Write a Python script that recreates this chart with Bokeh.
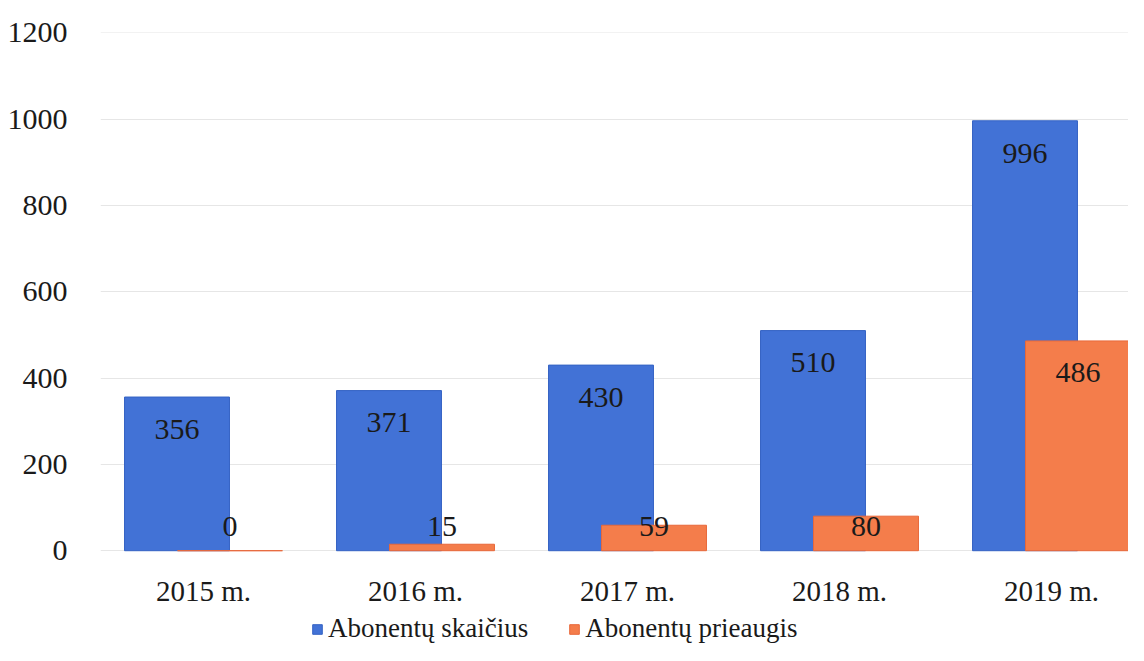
from bokeh.plotting import figure
from bokeh.models import ColumnDataSource, Range1d, Legend, LegendItem, FixedTicker
from bokeh.core.properties import value
from bokeh.embed import file_html
from bokeh.resources import INLINE

years = ["2015 m.", "2016 m.", "2017 m.", "2018 m.", "2019 m."]
subscribers = [356, 371, 430, 510, 996]
growth = [0, 15, 59, 80, 486]
series_names = ["Abonentų skaičius", "Abonentų prieaugis"]
y_ticks = [0, 200, 400, 600, 800, 1000, 1200]

BLUE = "#4272d6"
ORANGE = "#f47d4b"
FONT = "Liberation Serif"
TXT = "#1a1a1a"

W, H = 1128, 645
TOP, LEFT = 32, 100
PX_PER_UNIT = 518 / 1200.0
y_end = 1200.5
y_start = y_end - (H - TOP) / PX_PER_UNIT

xs = list(range(len(years)))
off = 0.125
bw = 0.495
cat_y = -40 / PX_PER_UNIT

src = ColumnDataSource(dict(
    xb=[x - off for x in xs],
    xo=[x + off for x in xs],
    sub=subscribers,
    gro=growth,
    sub_lbl=[str(v) for v in subscribers],
    gro_lbl=[str(v) for v in growth],
    sub_y=[v - 75 for v in subscribers],
    gro_y=[max(v - 72, 55) for v in growth],
))
cat_src = ColumnDataSource(dict(x=xs, y=[cat_y] * len(xs), t=years))

p = figure(width=W, height=H, output_backend="svg", toolbar_location=None,
           x_range=Range1d(-(203 - LEFT) / 212.0, 4 + (W - 1051) / 212.0),
           y_range=Range1d(y_start, y_end),
           min_border_left=LEFT, min_border_right=0, min_border_top=TOP, min_border_bottom=0)
p.outline_line_color = None
p.background_fill_color = "white"

rb = p.vbar(x="xb", top="sub", width=bw, source=src, fill_color=BLUE, line_color="#3563c4", line_width=1)
ro = p.vbar(x="xo", top="gro", width=bw, source=src, fill_color=ORANGE, line_color="#e8683a", line_width=1)

p.text(x="xb", y="sub_y", text="sub_lbl", source=src, text_align="center", text_baseline="middle",
       text_font=value(FONT), text_font_size="30px", text_color=TXT)
p.text(x="xo", y="gro_y", text="gro_lbl", source=src, text_align="center", text_baseline="middle",
       text_font=value(FONT), text_font_size="30px", text_color=TXT)
p.text(x="x", y="y", text="t", source=cat_src, text_align="center", text_baseline="middle",
       text_font=value(FONT), text_font_size="29px", text_color=TXT)

# axes
p.xaxis.visible = False
p.yaxis.ticker = FixedTicker(ticks=y_ticks)
ax = p.yaxis[0]
ax.axis_line_color = None
ax.major_tick_line_color = None
ax.minor_tick_line_color = None
ax.major_label_text_font = FONT
ax.major_label_text_font_size = "30px"
ax.major_label_text_color = TXT
ax.major_label_standoff = 27

p.xgrid.grid_line_color = None
p.ygrid.ticker = FixedTicker(ticks=y_ticks)
p.ygrid.grid_line_color = "#e6e6e6"
p.ygrid.grid_line_width = 1

legend = Legend(items=[LegendItem(label=series_names[0], renderers=[rb]),
                       LegendItem(label=series_names[1], renderers=[ro])],
                orientation="horizontal", location=(211, 1),
                label_text_font=FONT, label_text_font_size="27px", label_text_color=TXT,
                glyph_width=12, glyph_height=12, label_standoff=5, spacing=40,
                padding=0, margin=0, border_line_color=None, background_fill_alpha=0)
p.add_layout(legend, "center")

open("out.html", "w").write(file_html(p, INLINE))
